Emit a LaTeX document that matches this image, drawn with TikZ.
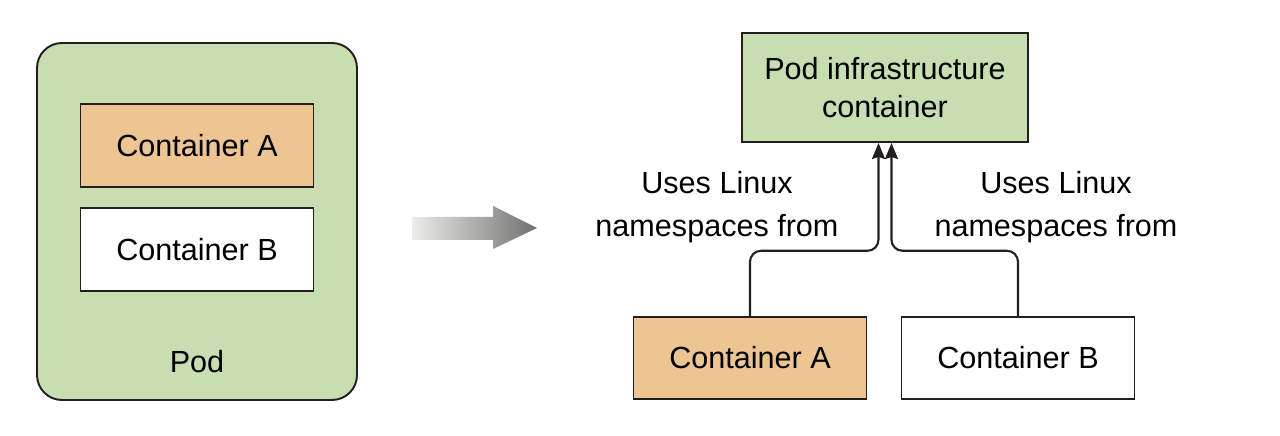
\documentclass[tikz,border=0pt]{standalone}
\usepackage{fontspec}
\setmainfont{Liberation Sans}
\usepackage{xcolor}
\usepackage{tikz}
\usetikzlibrary{arrows.meta,positioning,calc}
\definecolor{podgreen}{RGB}{201, 222, 176}
\definecolor{ctrorange}{RGB}{237, 197, 144}
\definecolor{inkline}{RGB}{35, 31, 32}
\definecolor{shadelight}{RGB}{236, 236, 234}
\definecolor{shadedark}{RGB}{112, 112, 112}

\begin{document}
\begin{tikzpicture}[
    >=Stealth,
    box/.style={draw=inkline, line width=1.1pt, align=center, font=\fontsize{17.4}{21.5}\selectfont, inner sep=0pt},
    ctr/.style={box, minimum width=4.66cm, minimum height=1.65cm},
    lbl/.style={align=center, font=\fontsize{17.4}{24.5}\selectfont, inner sep=0pt},
    arrow/.style={-{Stealth[length=0.32cm, width=0.26cm, inset=0.04cm]}, line width=1.2pt, inkline, rounded corners=0.22cm}
]
    \useasboundingbox (0,0) rectangle (25.6,8.72);

    % Pod with its two containers
    \node[box, fill=podgreen, rounded corners=0.5cm, minimum width=6.4cm, minimum height=7.14cm] (pod) at (3.94, 4.29) {};
    \node[ctr, fill=ctrorange] (ctrA) at (3.94, 5.81) {Container A};
    \node[ctr, fill=white] (ctrB) at (3.94, 3.73) {Container B};
    \node[lbl] (podlbl) at (3.94, 1.48) {Pod};

    % Shaded transition arrow
    \shade[left color=shadelight, right color=shadedark]
        (8.24, 3.92) -- (9.86, 3.92) -- (9.86, 3.74) -- (10.74, 4.16)
        -- (9.86, 4.60) -- (9.86, 4.38) -- (8.24, 4.38) -- cycle;

    % Infrastructure container and app containers
    \node[box, fill=podgreen, minimum width=5.72cm, minimum height=2.18cm] (infra) at (17.7, 6.97) {Pod infrastructure\\container};
    \node[ctr, fill=ctrorange] (appA) at (15.0, 1.56) {Container A};
    \node[ctr, fill=white] (appB) at (20.36, 1.56) {Container B};

    % Namespace sharing
    \draw[arrow] (appA.north) -- ++(0, 1.3) -| ([xshift=-0.13cm]infra.south);
    \draw[arrow] (appB.north) -- ++(0, 1.3) -| ([xshift=0.13cm]infra.south);
    \node[lbl] (usesA) at (14.34, 4.58) {Uses Linux\\namespaces from};
    \node[lbl] (usesB) at (21.12, 4.58) {Uses Linux\\namespaces from};

\end{tikzpicture}
\end{document}
